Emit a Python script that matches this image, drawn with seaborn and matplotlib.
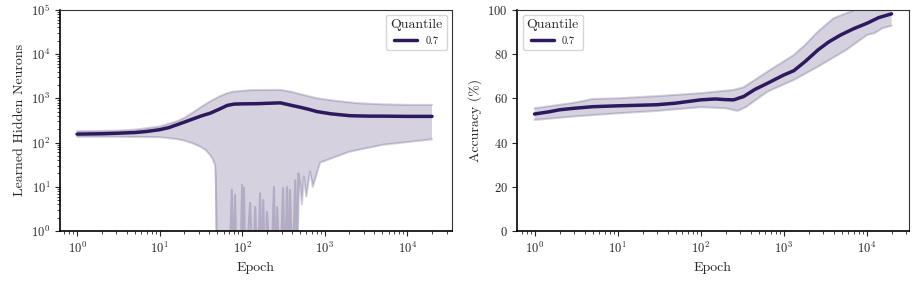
import numpy as np
import pandas as pd
import seaborn as sns
import matplotlib.pyplot as plt

# --- hidden neurons (left panel) ---
hid_mean_ep = [1, 2, 3, 5, 7, 10, 13, 16, 20, 25, 32, 41, 52, 66, 80, 103, 150, 200, 290,
               400, 500, 650, 810, 1200, 2000, 2470, 3500, 5000, 10000, 20000]
hid_mean = [155, 158, 162, 168, 178, 195, 218, 250, 290, 338, 400, 460, 560, 690, 740, 750, 755,
            770, 790, 690, 630, 560, 500, 445, 405, 400, 395, 395, 390, 390]

hid_hi_ep = [1, 3, 5, 10, 16, 20, 25, 32, 41, 52, 66, 80, 103, 125, 290, 400, 500, 810, 1200,
             1500, 2470, 5000, 10000, 20000]
hid_hi = [180, 185, 195, 230, 300, 360, 470, 640, 850, 1080, 1310, 1420, 1480, 1530, 1550, 1400,
          1250, 1000, 900, 860, 775, 730, 710, 710]

hid_lo_ep = [1, 3, 10, 16, 20, 25, 31, 36, 41, 44, 47, 48, 50, 55, 70, 75, 78, 82, 86, 95, 100,
             103, 105, 110, 125, 135, 144, 155, 165, 172, 180, 190, 200, 225, 243, 252, 265, 290,
             313, 330, 350, 365, 380, 410, 440, 460, 480, 505, 530, 560, 600, 665, 720, 880, 1260,
             2000, 5100, 20000]
hid_lo = [135, 135, 132, 120, 110, 96, 81, 68, 52, 42, 31, 15, 0.1, 0.1, 0.1, 8.5, 0.1, 6.5, 0.1,
          0.1, 11, 0.1, 9.4, 0.1, 4.3, 0.1, 3.5, 0.1, 7.2, 0.1, 5, 0.1, 2.7, 0.1, 9.9, 0.1, 3.5,
          0.1, 9.4, 0.1, 10, 0.1, 8.5, 0.1, 14, 0.3, 20, 12, 4, 17, 6, 22, 10, 35, 45, 62, 89, 118]

# --- accuracy (right panel) ---
acc_ep = [1, 1.5, 2, 3, 5, 10, 20, 30, 50, 100, 150, 200, 250, 330, 450, 640, 1000, 1330, 1800,
          2600, 3500, 4900, 7000, 10200, 14000, 20000]
acc_mean = [52.9, 53.9, 54.8, 55.5, 56.2, 56.6, 56.9, 57.1, 57.8, 59.3, 59.7, 59.4, 59.3, 60.8,
            64.0, 66.8, 70.5, 72.5, 76.5, 81.9, 85.5, 88.7, 91.5, 94.0, 96.5, 98.2]

acc_hi_ep = [1, 3, 5, 10, 30, 100, 250, 330, 640, 1330, 1800, 2600, 4000, 5700, 8000, 20000]
acc_hi = [55.5, 58.0, 59.7, 60.0, 61.0, 62.3, 63.8, 65.0, 72.1, 79.6, 84.0, 90.2, 96.2, 98.5,
          100.5, 104]

acc_lo_ep = [1, 3, 10, 30, 100, 200, 280, 350, 640, 1330, 2600, 5700, 10200, 12500, 15500, 20000]
acc_lo = [50.2, 51.8, 53.2, 54.3, 56.0, 55.5, 54.3, 56.0, 63.0, 68.3, 74.3, 81.9, 88.7, 89.5,
          91.7, 92.8]

quantile = 0.7
color = "#2d1a5e"

sns.set_theme(style="ticks")
plt.rcParams.update({
    "font.family": "serif",
    "font.serif": ["cmr10"],
    "mathtext.fontset": "cm",
    "axes.formatter.use_mathtext": True,
    "axes.unicode_minus": False,
})

fig = plt.figure(figsize=(9.14, 2.82), dpi=100)
ax1 = fig.add_axes([0.0656, 0.181, 0.429, 0.784])
ax2 = fig.add_axes([0.566, 0.181, 0.428, 0.784])


def band(ax, hi_ep, hi, lo_ep, lo):
    lo = np.asarray(lo, float)
    # where the lower edge flickers down to zero the shaded area reaches the bottom
    lo_fill = lo.copy()
    nb = np.minimum(lo[:-2], lo[2:])
    lo_fill[1:-1] = np.where(nb < 1, nb, lo[1:-1])
    xs = np.concatenate([hi_ep, lo_ep[::-1]])
    ys = np.concatenate([hi, lo_fill[::-1]])
    ax.fill(xs, ys, color=color, alpha=0.2, lw=0)
    ax.plot(hi_ep, hi, color=color, alpha=0.2, lw=1.5)
    ax.plot(lo_ep, lo, color=color, alpha=0.2, lw=1.5)


for ax, ep, mean, hi_ep, hi, lo_ep, lo in [
    (ax1, hid_mean_ep, hid_mean, hid_hi_ep, hid_hi, hid_lo_ep, hid_lo),
    (ax2, acc_ep, acc_mean, acc_hi_ep, acc_hi, acc_lo_ep, acc_lo),
]:
    band(ax, hi_ep, hi, lo_ep, lo)
    df = pd.DataFrame({"Epoch": ep, "val": mean, "Quantile": quantile})
    sns.lineplot(data=df, x="Epoch", y="val", hue="Quantile", palette=[color],
                 lw=2.5, ax=ax)
    ax.set_xscale("log")
    ax.set_xlabel("Epoch", fontsize=10)
    ax.tick_params(labelsize=9, length=3.5, width=0.8)
    ax.tick_params(which="minor", length=2, width=0.6)
    for s in ["left", "bottom"]:
        ax.spines[s].set_linewidth(1.2)
        ax.spines[s].set_color("black")
    for s in ["top", "right"]:
        ax.spines[s].set_linewidth(0.8)
        ax.spines[s].set_color("#333333")

ax1.set_xlim(0.62, 35000)
ax2.set_xlim(0.62, 32000)
ax1.set_yscale("log")
ax1.set_ylim(1, 1e5)
ax1.set_ylabel("Learned Hidden Neurons", fontsize=10)
ax2.set_ylim(0, 100)
ax2.set_yticks([0, 20, 40, 60, 80, 100])
ax2.set_ylabel("Accuracy (%)", fontsize=10)

for ax, loc in [(ax1, "upper right"), (ax2, "upper left")]:
    leg = ax.legend(title="Quantile", loc=loc, fontsize=7.5, title_fontsize=10,
                    handlelength=2.2, frameon=True)
    leg.get_frame().set_edgecolor("#cccccc")

fig.savefig("out.png", dpi=100)
